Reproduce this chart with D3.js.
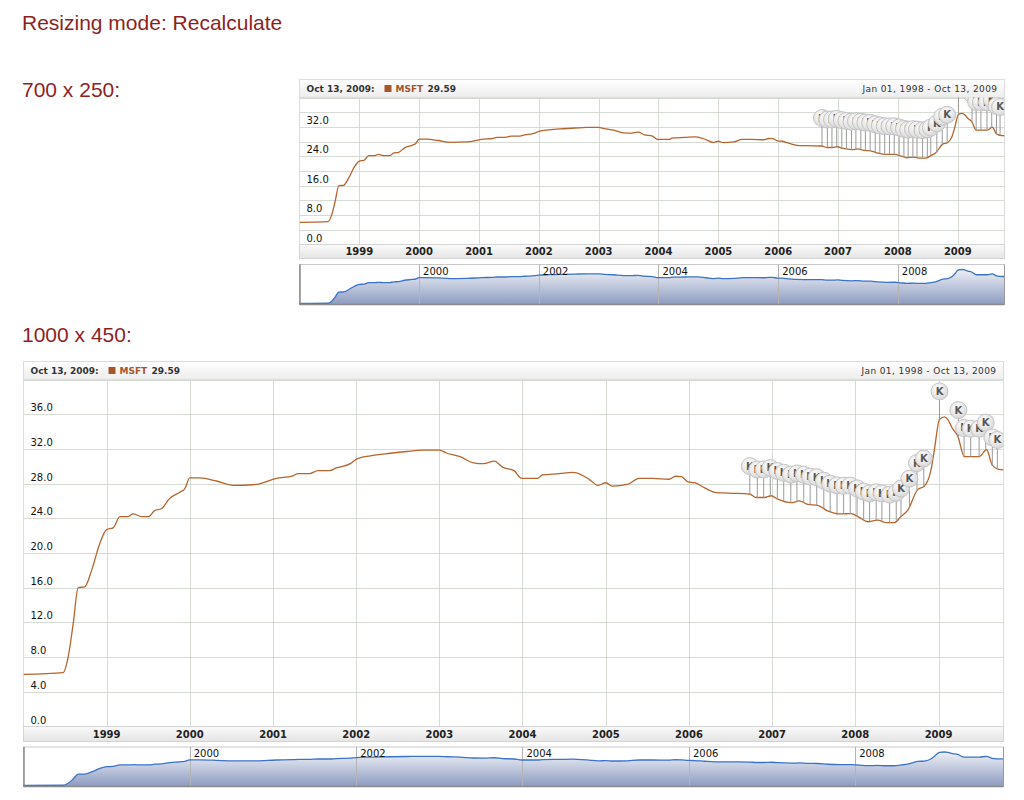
<!DOCTYPE html>
<html>
<head>
<meta charset="utf-8">
<style>
body { margin: 0; background: #fff; }
svg { display: block; }
.ttl { font-family: "Liberation Sans", Arial, sans-serif; font-size: 21px; fill: #8e1f1f; }
.chart text { font-family: "DejaVu Sans", Verdana, sans-serif; }
</style>
</head>
<body>
<svg id="page" width="1024" height="800"></svg>
<script src="https://d3js.org/d3.v7.min.js"></script>
<script>

// MSFT close
var dates = ["1998-01-01","1998-06-24","1998-07-16","1998-08-07","1998-08-29","1998-09-27","1998-10-27","1998-12-02",
  "1999-01-01","1999-01-30","1999-02-28","1999-04-05","1999-04-27","1999-06-03","1999-07-05","1999-07-31","1999-08-29","1999-10-05","1999-11-18","1999-12-10",
  "2000-01-01","2000-02-14","2000-04-27","2000-07-09","2000-10-19",
  "2001-01-15","2001-03-29","2001-04-20","2001-06-10","2001-07-16","2001-09-06","2001-10-05","2001-12-06",
  "2002-01-01","2002-03-04","2002-05-31","2002-08-11","2002-10-23",
  "2003-01-01","2003-02-03","2003-04-02","2003-05-31","2003-07-14","2003-08-30","2003-10-05","2003-11-25","2003-12-28",
  "2004-03-07","2004-03-29","2004-06-10","2004-08-07","2004-08-29","2004-10-19","2004-11-28",
  "2005-01-01","2005-01-30","2005-04-06","2005-05-27","2005-07-24","2005-10-05","2005-11-03","2005-11-28","2005-12-28",
  "2006-01-26","2006-03-11","2006-04-24","2006-06-21","2006-09-24","2006-10-23","2006-11-28","2006-12-28",
  "2007-01-26","2007-03-26","2007-05-01","2007-06-07","2007-07-20","2007-09-02","2007-10-23","2007-12-13",
  "2008-01-19","2008-02-25","2008-04-08","2008-05-15","2008-06-20","2008-07-20","2008-08-18","2008-10-01","2008-10-30","2008-11-28","2008-12-13",
  "2009-01-05","2009-01-27","2009-02-10","2009-03-04","2009-03-26","2009-04-24","2009-06-28","2009-07-31","2009-08-25","2009-10-01","2009-10-13"];
var closes = [6.0,6.2,8.0,11.8,16.0,16.1,18.0,21.1,
  22.7,22.9,24.2,24.2,24.5,24.2,24.2,24.9,25.1,26.3,27.0,27.4,
  28.65,28.65,28.3,27.8,27.9,
  28.6,28.9,29.15,29.15,29.5,29.5,29.8,30.3,
  30.8,31.2,31.5,31.7,31.85,
  31.85,31.5,31.1,30.4,30.3,30.6,29.9,29.5,28.6,
  28.6,29.0,29.15,29.3,29.2,28.5,27.8,
  28.1,27.7,27.9,28.6,28.6,28.5,28.85,28.8,28.2,
  28.1,27.5,27.0,26.9,26.8,26.4,26.4,26.6,
  26.2,25.8,26.0,25.6,25.5,24.85,24.5,24.55,
  24.1,23.6,23.8,23.5,23.5,24.2,24.9,27.3,27.7,29.5,31.8,
  35.4,35.7,35.4,34.3,33.5,31.1,31.1,31.9,30.1,29.6,29.59];

// "K" events
var eventDates = ["2006-09-25","2006-10-28","2006-11-25","2006-12-24","2007-01-24","2007-02-21","2007-03-24","2007-04-20",
  "2007-05-20","2007-06-17","2007-07-16","2007-08-16","2007-09-13","2007-10-13","2007-11-11","2007-12-10",
  "2008-01-09","2008-02-07","2008-03-04","2008-04-02","2008-04-27","2008-05-31","2008-06-29","2008-07-20",
  "2008-08-26","2008-09-28","2008-10-28","2009-01-05","2009-03-29","2009-04-23","2009-05-22","2009-06-28",
  "2009-07-27","2009-08-25","2009-09-16"];

var yearTicks = [1999,2000,2001,2002,2003,2004,2005,2006,2007,2008,2009];
var scrollTicks = [2000,2002,2004,2006,2008];
var headerDate = "Oct 13, 2009:";
var legendName = "MSFT";
var legendValue = "29.59";
var rangeText = "Jan 01, 1998 - Oct 13, 2009";

var parse = d3.timeParse("%Y-%m-%d");
var data = dates.map(function(d, i){ return {date: parse(d), v: closes[i]}; });
var bis = d3.bisector(function(d){ return d.date; }).left;
function valueAt(t){
  var i = bis(data, t);
  if (i <= 0) return data[0].v;
  if (i >= data.length) return data[data.length-1].v;
  var a = data[i-1], b = data[i];
  var k = (t - a.date) / (b.date - a.date);
  return a.v + (b.v - a.v) * k;
}

var svg = d3.select("#page");
var defs = svg.append("defs");

var g1 = defs.append("linearGradient").attr("id","hdr").attr("x1",0).attr("y1",0).attr("x2",0).attr("y2",1);
g1.append("stop").attr("offset","0%").attr("stop-color","#ffffff");
g1.append("stop").attr("offset","100%").attr("stop-color","#ededed");
var g2 = defs.append("linearGradient").attr("id","band").attr("x1",0).attr("y1",0).attr("x2",0).attr("y2",1);
g2.append("stop").attr("offset","0%").attr("stop-color","#fbfbfb");
g2.append("stop").attr("offset","100%").attr("stop-color","#e4e4e4");
var g3 = defs.append("linearGradient").attr("id","scr").attr("x1",0).attr("y1",0).attr("x2",0).attr("y2",1);
g3.append("stop").attr("offset","0%").attr("stop-color","#eef0f6");
g3.append("stop").attr("offset","100%").attr("stop-color","#8c9bc0");
var g4 = defs.append("radialGradient").attr("id","bul").attr("cx","40%").attr("cy","35%").attr("r","65%");
g4.append("stop").attr("offset","0%").attr("stop-color","#ffffff");
g4.append("stop").attr("offset","100%").attr("stop-color","#d9d9d9");

svg.append("text").attr("class","ttl").attr("x",22).attr("y",30).text("Resizing mode: Recalculate");
svg.append("text").attr("class","ttl").attr("x",22).attr("y",97).text("700 x 250:");
svg.append("text").attr("class","ttl").attr("x",22).attr("y",342).text("1000 x 450:");

function drawChart(id, c){
  var root = svg.append("g").attr("class","chart");
  var plotTop = c.top + c.hh, plotBot = plotTop + c.ph, bandBot = plotBot + c.bh;

  var x = d3.scaleTime()
    .domain([parse("1998-01-01"), parse("2009-10-13")])
    .range([c.left, c.right]);
  var y = d3.scaleLinear().domain([0, 40]).range([plotBot, plotTop]);

  defs.append("clipPath").attr("id","clip"+id).append("rect")
    .attr("x",c.left).attr("y",plotTop).attr("width",c.right-c.left).attr("height",c.ph);

  // frame + header
  root.append("rect").attr("x",c.left).attr("y",c.top).attr("width",c.right-c.left).attr("height",bandBot-c.top)
    .attr("fill","#fff").attr("stroke","#dcdcdc");
  root.append("rect").attr("x",c.left).attr("y",c.top).attr("width",c.right-c.left).attr("height",c.hh)
    .attr("fill","url(#hdr)").attr("stroke","#dcdcdc");

  // grid
  var yt = d3.range(0, 41, 4);
  root.append("g").selectAll("line").data(yt).join("line")
    .attr("x1",c.left).attr("x2",c.right)
    .attr("y1",function(d){ return Math.round(y(d))+0.5; }).attr("y2",function(d){ return Math.round(y(d))+0.5; })
    .attr("stroke","#d6dbd3");
  root.append("g").selectAll("line").data(yearTicks).join("line")
    .attr("x1",function(d){ return Math.round(x(new Date(d,0,1)))+0.5; })
    .attr("x2",function(d){ return Math.round(x(new Date(d,0,1)))+0.5; })
    .attr("y1",plotTop).attr("y2",plotBot).attr("stroke","#d6dbd3");

  // value labels
  root.append("g").selectAll("text").data(yt.filter(function(d){ return d < 40 && d % c.lstep === 0; })).join("text")
    .attr("x",c.left+7).attr("y",function(d){ return y(d)-3; })
    .attr("font-size",10).attr("fill","#111")
    .text(function(d){ return d3.format(".1f")(d); });

  // axis band
  root.append("rect").attr("x",c.left).attr("y",plotBot).attr("width",c.right-c.left).attr("height",c.bh)
    .attr("fill","url(#band)").attr("stroke","#d4d4d4");
  root.append("g").selectAll("text").data(yearTicks).join("text")
    .attr("x",function(d){ return x(new Date(d,0,1)); }).attr("y",plotBot+c.bh-3.5)
    .attr("text-anchor","middle").attr("font-size",10).attr("font-weight","bold").attr("fill","#222")
    .text(function(d){ return d; });

  // line
  var line = d3.line().x(function(d){ return x(d.date); }).y(function(d){ return y(d.v); }).curve(d3.curveMonotoneX);
  var inner = root.append("g").attr("clip-path","url(#clip"+id+")");
  inner.append("path").datum(data).attr("d",line).attr("fill","none").attr("stroke","#b5652d").attr("stroke-width",1.3);

  // events
  var ev = eventDates.map(function(d){ var t = parse(d); return {x: x(t), y: y(valueAt(t))}; });
  inner.append("g").selectAll("line").data(ev).join("line")
    .attr("x1",function(d){ return d.x; }).attr("x2",function(d){ return d.x; })
    .attr("y1",function(d){ return d.y-28; }).attr("y2",function(d){ return d.y; })
    .attr("stroke","#9a9a9a").attr("stroke-width",1);
  var b = inner.append("g").selectAll("g").data(ev).join("g")
    .attr("transform",function(d){ return "translate("+d.x+","+(d.y-28)+")"; });
  b.append("circle").attr("r",8.5).attr("fill","url(#bul)").attr("stroke","#c4c4c4");
  // the letter only where the bullet is not cut off by the plot top
  b.filter(function(d){ return d.y - 28 > plotTop + 2; })
    .append("text").attr("y",3.5).attr("text-anchor","middle").attr("font-size",10).attr("font-weight","bold")
    .attr("fill","#555").text("K");

  // header texts
  root.append("text").attr("x",c.left+7).attr("y",c.top+12.5).attr("font-size",9).attr("font-weight","bold")
    .attr("fill","#333").text(headerDate);
  root.append("rect").attr("x",c.left+85).attr("y",c.top+5.5).attr("width",7).attr("height",7).attr("fill","#a5562a");
  root.append("text").attr("x",c.left+96).attr("y",c.top+12.5).attr("font-size",9).attr("font-weight","bold")
    .attr("fill","#a5562a").text(legendName);
  root.append("text").attr("x",c.left+128).attr("y",c.top+12.5).attr("font-size",9).attr("font-weight","bold")
    .attr("fill","#333").text(legendValue);
  root.append("text").attr("x",c.right-7).attr("y",c.top+12.5).attr("font-size",9).attr("text-anchor","end")
    .attr("fill","#333").attr("letter-spacing",0.4).text(rangeText);

  // scrollbar
  var st = bandBot + c.gap, sb = st + c.sh;
  var ys = d3.scaleLinear().domain(d3.extent(data, function(d){ return d.v; })).range([sb-1, st+5]);
  root.append("rect").attr("x",c.left).attr("y",st).attr("width",c.right-c.left).attr("height",c.sh)
    .attr("fill","#fff").attr("stroke","#c8c8c8");
  var area = d3.area().x(function(d){ return x(d.date); }).y0(sb).y1(function(d){ return ys(d.v); }).curve(d3.curveMonotoneX);
  root.append("path").datum(data).attr("d",area).attr("fill","url(#scr)");
  root.append("g").selectAll("line").data(scrollTicks).join("line")
    .attr("x1",function(d){ return Math.round(x(new Date(d,0,1)))+0.5; })
    .attr("x2",function(d){ return Math.round(x(new Date(d,0,1)))+0.5; })
    .attr("y1",st).attr("y2",sb).attr("stroke","#b4b4b4");
  root.append("path").datum(data).attr("d",line.y(function(d){ return ys(d.v); }))
    .attr("fill","none").attr("stroke","#3b73c6").attr("stroke-width",1.3);
  root.append("g").selectAll("text").data(scrollTicks).join("text")
    .attr("x",function(d){ return x(new Date(d,0,1))+4; }).attr("y",st+10)
    .attr("font-size",10).attr("fill","#111").text(function(d){ return d; });
  root.append("line").attr("x1",c.left+0.5).attr("x2",c.left+0.5).attr("y1",st).attr("y2",sb).attr("stroke","#8a8a8a").attr("stroke-width",1.5);
  root.append("line").attr("x1",c.left).attr("x2",c.right).attr("y1",sb).attr("y2",sb).attr("stroke","#8a8a8a").attr("stroke-width",1.5);
  root.append("line").attr("x1",c.right).attr("x2",c.right).attr("y1",st).attr("y2",sb).attr("stroke","#9a9a9a");
}

drawChart("s", {left:299.5, right:1004.5, top:79.5, hh:18, ph:147, bh:14, gap:6, sh:40, lstep:8});
drawChart("b", {left:23.5, right:1003.5, top:361.5, hh:18, ph:347, bh:15, gap:5.5, sh:39.5, lstep:4});

</script>
</body>
</html>
